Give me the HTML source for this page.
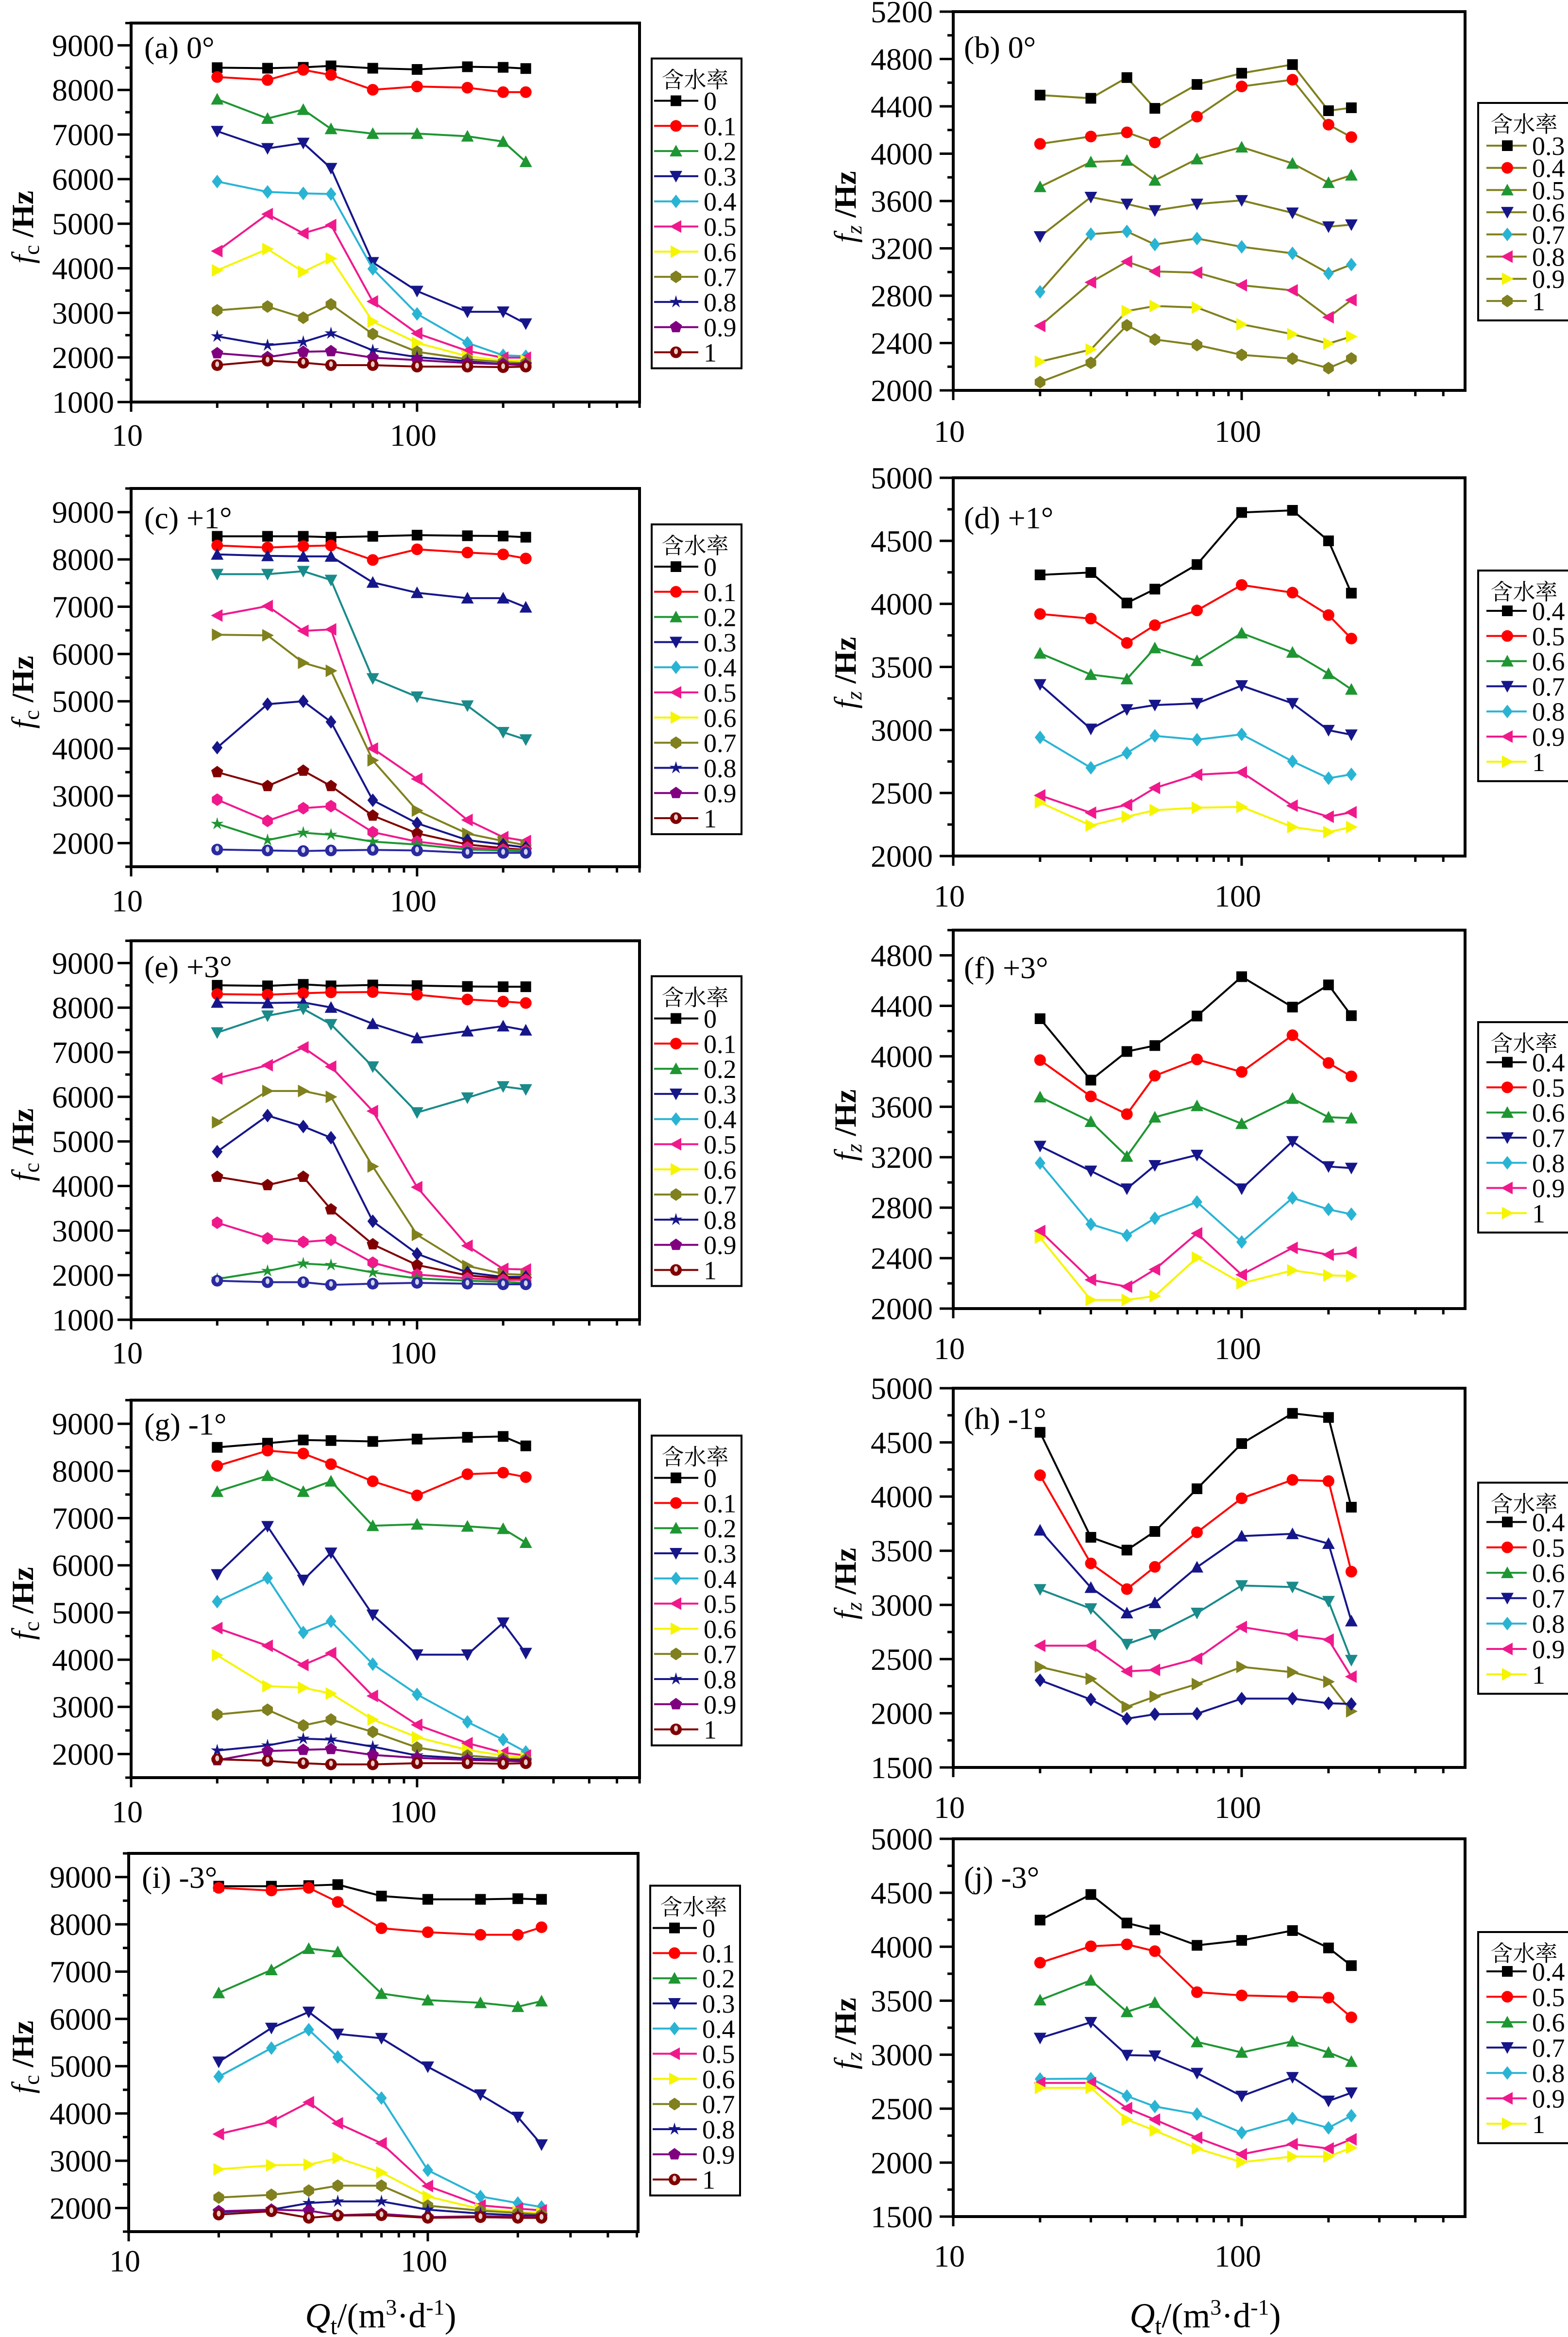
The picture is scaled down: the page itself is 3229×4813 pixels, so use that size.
<!DOCTYPE html>
<html><head><meta charset="utf-8"><title>fc fz vs Qt</title>
<style>html,body{margin:0;padding:0;background:#fff}svg{display:block;font-family:"Liberation Serif","Noto Serif CJK SC",serif}</style>
</head><body>
<svg id="fig" xmlns="http://www.w3.org/2000/svg" width="3229" height="4813" viewBox="0 0 3229 4813"><rect width="3229" height="4813" fill="#fff"/></svg>
<script>
const Q = [20,30,40,50,70,100,150,200,240];
const legendLeft = ['0','0.1','0.2','0.3','0.4','0.5','0.6','0.7','0.8','0.9','1'];
const legendB = ['0.3','0.4','0.5','0.6','0.7','0.8','0.9','1'];
const legendR = ['0.4','0.5','0.6','0.7','0.8','0.9','1'];
const dataA = [
[8500,8487,8507,8540,8487,8460,8520,8507,8480],
[8290,8223,8450,8336,8004,8077,8050,7951,7951],
[7791,7360,7559,7127,7021,7021,6961,6842,6390],
[7074,6689,6809,6244,4133,3489,3024,3024,2758],
[5946,5713,5680,5667,3987,2977,2327,2048,2028],
[4385,5215,4784,4970,3256,2539,2147,1995,1995],
[3953,4432,3920,4219,2805,2327,2028,1928,1928],
[3057,3143,2891,3190,2526,2127,1961,1895,1875],
[2473,2274,2347,2539,2160,2008,1915,1849,1849],
[2094,2008,2127,2141,1995,1941,1875,1849,1828],
[1828,1928,1882,1828,1828,1795,1795,1782,1795]];
const dataC = [
[8488,8488,8488,8469,8488,8513,8500,8494,8469],
[8294,8250,8281,8294,7988,8213,8144,8106,8019],
[8106,8075,8063,8063,7513,7294,7181,7181,6988],
[7688,7688,7750,7563,5481,5094,4906,4344,4188],
[6813,7013,6488,6519,4000,3356,2488,2125,2044],
[6406,6394,5813,5644,3750,2688,2200,2044,1956],
[4019,4938,5000,4563,2906,2419,2063,1969,1906],
[3500,3206,3531,3206,2581,2206,1969,1894,1856],
[2919,2469,2738,2781,2231,2031,1906,1863,1844],
[2406,2063,2219,2175,2031,1969,1863,1844,1831],
[1863,1844,1831,1844,1856,1844,1794,1794,1794]];
const dataE = [
[8502,8489,8522,8489,8509,8495,8475,8469,8469],
[8303,8290,8323,8343,8350,8290,8183,8137,8104],
[8117,8104,8117,8004,7639,7320,7473,7586,7493],
[7440,7818,7971,7625,6676,5647,5979,6231,6165],
[6411,6710,7108,6676,5680,3973,2659,2141,2127],
[5428,6131,6131,5999,4438,2905,2207,2028,2008],
[4770,5580,5335,5082,3210,2479,2061,1961,1961],
[4206,4020,4206,3475,2692,2227,1995,1928,1915],
[3177,2825,2745,2791,2280,2014,1928,1895,1895],
[1915,2094,2260,2227,2061,1928,1875,1849,1828],
[1875,1842,1842,1782,1809,1828,1809,1795,1795]];
const dataG = [
[8500,8588,8656,8644,8625,8675,8713,8731,8531],
[8106,8431,8369,8144,7781,7481,7931,7963,7869],
[7563,7900,7563,7781,6838,6869,6825,6775,6481],
[5806,6825,5688,6263,4950,4106,4106,4781,4138],
[5231,5731,4575,4813,3906,3263,2681,2306,2044],
[4669,4294,3888,4138,3231,2619,2231,2031,1969],
[4094,3438,3406,3281,2731,2356,2088,1969,1919],
[2838,2938,2606,2731,2469,2138,1969,1906,1888],
[2075,2181,2325,2306,2156,1969,1906,1875,1869],
[1869,2063,2088,2106,1981,1919,1875,1856,1844],
[1888,1856,1806,1781,1781,1806,1806,1794,1806]];
const dataI = [
[8806,8806,8819,8840,8597,8528,8528,8542,8528],
[8771,8715,8771,8472,7917,7833,7778,7778,7938],
[6549,7035,7486,7417,6535,6396,6340,6257,6375],
[5090,5806,6146,5681,5590,4986,4396,3924,3340],
[4778,5382,5771,5194,4326,2799,2243,2104,2021],
[3563,3826,4236,3792,3368,2465,2056,1986,1951],
[2819,2903,2917,3056,2750,2243,1979,1917,1896],
[2222,2278,2368,2472,2472,2049,1944,1896,1861],
[1910,1965,2104,2139,2139,1965,1882,1847,1840],
[1931,1965,1944,1847,1875,1806,1826,1813,1813],
[1861,1931,1792,1840,1847,1792,1806,1792,1792]];
const dataB = [
[4495,4468,4643,4383,4585,4680,4753,4363,4388],
[4083,4145,4180,4095,4313,4568,4625,4245,4140],
[3720,3930,3943,3775,3955,4055,3918,3755,3818],
[3300,3633,3575,3520,3575,3605,3500,3383,3400],
[2833,3320,3343,3233,3283,3213,3158,2988,3063],
[2545,2913,3088,3005,2995,2888,2845,2618,2763],
[2243,2345,2670,2713,2700,2558,2475,2395,2455],
[2070,2233,2550,2430,2383,2300,2268,2188,2270]];
const dataD = [
[4230,4249,4007,4117,4312,4725,4742,4500,4085],
[3920,3883,3690,3831,3948,4150,4089,3911,3725],
[3608,3439,3404,3650,3549,3768,3615,3446,3322],
[3361,3008,3162,3197,3211,3352,3211,2998,2962],
[2941,2700,2817,2953,2923,2965,2751,2617,2648],
[2481,2343,2406,2540,2645,2664,2399,2312,2347],
[2425,2242,2312,2364,2383,2390,2230,2190,2230]];
const dataF = [
[4298,3811,4038,4085,4319,4631,4390,4566,4322],
[3970,3682,3541,3846,3975,3876,4167,3947,3841],
[3677,3482,3206,3517,3607,3466,3665,3517,3510],
[3288,3091,2950,3135,3217,2950,3325,3126,3114],
[3154,2669,2580,2716,2845,2528,2877,2786,2748],
[2615,2228,2174,2310,2596,2268,2481,2427,2444],
[2563,2069,2069,2099,2404,2200,2303,2263,2259]];
const dataH = [
[4593,3624,3506,3678,4072,4489,4768,4730,3902],
[4197,3383,3146,3351,3670,3984,4154,4143,3307],
[3689,3160,2925,3020,3348,3635,3656,3566,2851],
[3143,2966,2638,2728,2925,3179,3165,3034,2490],
[2624,2624,2387,2400,2504,2796,2722,2679,2338],
[2428,2318,2059,2154,2269,2428,2379,2291,2018],
[2305,2127,1950,1991,1996,2135,2135,2092,2086]];
const dataJ = [
[4247,4484,4220,4156,4013,4059,4150,3989,3825],
[3852,4004,4022,3959,3579,3549,3537,3528,3346],
[3506,3689,3397,3482,3118,3021,3124,3021,2936],
[3154,3300,2996,2990,2829,2617,2790,2571,2647],
[2775,2778,2617,2520,2450,2277,2410,2322,2435],
[2738,2738,2505,2398,2231,2077,2171,2131,2216],
[2693,2693,2398,2298,2131,2004,2056,2056,2137]];

const NS='http://www.w3.org/2000/svg';
const svg=document.getElementById('fig');
function mk(tag,attrs,parent){const e=document.createElementNS(NS,tag);for(const k in attrs)e.setAttribute(k,attrs[k]);(parent||svg).appendChild(e);return e;}
const C={k:'#000',r:'#ff0000',g:'#1e9632',n:'#16168a',c:'#2ab4d4',p:'#f0198c',y:'#f5f500',o:'#80801e',pu:'#800080',dr:'#800000',t:'#1a8a8a',b:'#2a2aa0'};
const L=[[C.k,'sq'],[C.r,'ci'],[C.g,'up'],[C.n,'dn'],[C.c,'di'],[C.p,'lt'],[C.y,'rt'],[C.o,'hx'],[C.n,'st'],[C.pu,'pe'],[C.dr,'sp']];
const LC=[[C.k,'sq'],[C.r,'ci'],[C.n,'up'],[C.t,'dn'],[C.p,'lt'],[C.o,'rt'],[C.n,'di'],[C.dr,'pe'],[C.p,'hx'],[C.g,'st'],[C.b,'sp']];
const RB=[[C.k,'sq'],[C.r,'ci'],[C.g,'up'],[C.n,'dn'],[C.c,'di'],[C.p,'lt'],[C.y,'rt'],[C.o,'hx']];
const R=[[C.k,'sq'],[C.r,'ci'],[C.g,'up'],[C.n,'dn'],[C.c,'di'],[C.p,'lt'],[C.y,'rt']];
const RH=[[C.k,'sq'],[C.r,'ci'],[C.n,'up'],[C.t,'dn'],[C.p,'lt'],[C.o,'rt'],[C.n,'di']];

function marker(g,shape,x,y,col){
  const s=11;let e;
  const poly=pts=>mk('polygon',{points:pts.map(p=>(x+p[0])+','+(y+p[1])).join(' '),fill:col},g);
  if(shape==='sq')e=mk('rect',{x:x-s,y:y-s,width:2*s,height:2*s,fill:col},g);
  else if(shape==='ci')e=mk('circle',{cx:x,cy:y,r:s+1,fill:col},g);
  else if(shape==='sp'){e=mk('circle',{cx:x,cy:y,r:s+1,fill:col},g);mk('ellipse',{cx:x,cy:y-2,rx:4,ry:6,fill:'#fff',opacity:0.8},g);}
  else if(shape==='up')e=poly([[0,-s-2],[s+2,s],[-s-2,s]]);
  else if(shape==='dn')e=poly([[0,s+2],[s+2,-s],[-s-2,-s]]);
  else if(shape==='lt')e=poly([[-s-2,0],[s,-s-2],[s,s+2]]);
  else if(shape==='rt')e=poly([[s+2,0],[-s,-s-2],[-s,s+2]]);
  else if(shape==='di')e=poly([[0,-s-3],[s,0],[0,s+3],[-s,0]]);
  else if(shape==='hx')e=poly([[0,-s-2],[s,-s/2],[s,s/2],[0,s+2],[-s,s/2],[-s,-s/2]]);
  else if(shape==='pe'){const p=[];for(let i=0;i<5;i++){const a=-Math.PI/2+i*2*Math.PI/5;p.push([Math.cos(a)*(s+2),Math.sin(a)*(s+2)]);}e=poly(p);}
  else if(shape==='st'){const p=[];for(let i=0;i<10;i++){const a=-Math.PI/2+i*Math.PI/5,r=i%2?s*0.45:s+3;p.push([Math.cos(a)*r,Math.sin(a)*r]);}e=poly(p);}
  return e;
}

const panels=[
 {id:'a',lab:'(a) 0°',x0:270,x1:1317,lmax:2.778,y0:47.5,y1:828,ymin:1000,ymax:9500,maj:1000,min:500,data:dataA,st:L,leg:legendLeft,legSt:L,left:true,lt:73,le:160,ls:51.8,pl:72,tx:90},
 {id:'b',lab:'(b) 0°',x0:1963,x1:3017,lmax:2.7744,y0:24,y1:804,ymin:2000,ymax:5200,maj:400,min:200,data:dataB,st:RB,leg:legendB,legSt:RB,left:false,lineCol:C.o,lt:188,le:276,ls:45.7,pl:95,tx:106},
 {id:'c',lab:'(c) +1°',x0:270,x1:1317,lmax:2.778,y0:1006,y1:1785,ymin:1500,ymax:9500,maj:1000,min:500,data:dataC,st:LC,leg:legendLeft,legSt:L,left:true,lt:74,le:161,ls:51.8,pl:82,tx:92},
 {id:'d',lab:'(d) +1°',x0:1963,x1:3017,lmax:2.7744,y0:984,y1:1763,ymin:2000,ymax:5000,maj:500,min:250,data:dataD,st:R,leg:legendR,legSt:R,left:false,lt:191,le:274,ls:51.8,pl:104,tx:104},
 {id:'e',lab:'(e) +3°',x0:270,x1:1317,lmax:2.778,y0:1937.5,y1:2718,ymin:1000,ymax:9500,maj:1000,min:500,data:dataE,st:LC,leg:legendLeft,legSt:L,left:true,lt:73,le:160,ls:51.8,pl:75,tx:90},
 {id:'f',lab:'(f) +3°',x0:1963,x1:3017,lmax:2.7744,y0:1915.6,y1:2695,ymin:2000,ymax:5000,maj:400,min:200,data:dataF,st:R,leg:legendR,legSt:R,left:false,lt:189.5,le:272,ls:51.8,pl:99,tx:104},
 {id:'g',lab:'(g) -1°',x0:270,x1:1317,lmax:2.778,y0:2883.6,y1:3661,ymin:1500,ymax:9500,maj:1000,min:500,data:dataG,st:L,leg:legendLeft,legSt:L,left:true,lt:73,le:160,ls:51.8,pl:71,tx:92},
 {id:'h',lab:'(h) -1°',x0:1963,x1:3017,lmax:2.7744,y0:2859,y1:3640,ymin:1500,ymax:5000,maj:500,min:250,data:dataH,st:RH,leg:legendR,legSt:R,left:false,lt:194.5,le:275.5,ls:52.3,pl:84,tx:104},
 {id:'i',lab:'(i) -3°',x0:265,x1:1314,lmax:2.703,y0:3817,y1:4596,ymin:1500,ymax:9500,maj:1000,min:500,data:dataI,st:L,leg:legendLeft,legSt:L,left:true,lt:66.5,le:153.6,ls:51.8,pl:71,tx:82,xt:true},
 {id:'j',lab:'(j) -3°',x0:1963,x1:3017,lmax:2.7744,y0:3787,y1:4565,ymin:1500,ymax:5000,maj:500,min:250,data:dataJ,st:R,leg:legendR,legSt:R,left:false,lt:192,le:273,ls:52.3,pl:101,tx:103,xt:true}
];

panels.forEach(p=>{
  const g=mk('g',{});
  
  
  const X=v=>p.x0+(Math.log10(v)-1)/(p.lmax-1)*(p.x1-p.x0);
  const Y=v=>p.y1-(v-p.ymin)/(p.ymax-p.ymin)*(p.y1-p.y0);
  const fr=mk('rect',{x:p.x0,y:p.y0,width:p.x1-p.x0,height:p.y1-p.y0,fill:'none',stroke:'#000','stroke-width':6},g);
  
  
  for(let v=p.ymin;v<=p.ymax+0.1;v+=p.min){
    const y=Y(v),maj=(v%p.maj===0);
    mk('line',{x1:p.x0-(maj?28:12),x2:p.x0,y1:y,y2:y,stroke:'#000','stroke-width':5},g);
    if(maj){
      const t=mk('text',{x:p.x0-(p.left?35:42),y:y+22,'text-anchor':'end','font-size':64},g);
      t.textContent=v;
      
      
    }
  }
  const xmax=Math.pow(10,p.lmax)+0.5;
  [10,100].forEach(d=>{for(let k=1;k<=9;k++){const v=d*k;if(v>xmax)break;const x=X(v);
    mk('line',{x1:x,x2:x,y1:p.y1,y2:p.y1+(k===1?20:12),stroke:'#000','stroke-width':5},g);}});
  [10,100].forEach(v=>{
    const t=mk('text',{x:X(v)-8,y:p.y1+p.tx,'text-anchor':'middle','font-size':64},g);
    t.textContent=v;
    
    
  });
  p.data.forEach((ser,si)=>{
    const [col,shape]=p.st[si];
    const sg=mk('g',{},g);
    
    
    const line=mk('polyline',{points:ser.map((v,i)=>X(Q[i])+','+Y(v)).join(' '),fill:'none',stroke:p.lineCol||col,'stroke-width':4},sg);
    
    
    ser.forEach((v,i)=>{const m=marker(sg,shape,X(Q[i]),Y(v),col);
      
      });
  });
  const lg=mk('g',{},g);
  
  
  const bx=p.left?p.x1+25:3044, bw=p.left?185:195;
  const bh=p.left?638:(p.le+p.ls*(p.leg.length-1)+40-p.lt);
  mk('rect',{x:bx,y:p.y0+p.lt,width:bw,height:bh,fill:'#fff',stroke:'#000','stroke-width':4},lg);
  const tt=mk('text',{x:bx+bw/2-3,y:p.y0+p.lt+60,'text-anchor':'middle','font-size':46,'font-family':'"Noto Serif CJK SC","Noto Sans CJK SC",serif'},lg);
  tt.textContent='含水率';
  
  
  p.leg.forEach((lab,i)=>{
    const y=p.y0+p.le+i*p.ls;const [col,shape]=p.legSt[i];
    const lx0=p.left?bx+5:bx+17, lx1=p.left?bx+96:bx+100, mx=p.left?bx+50:bx+60, tx=p.left?bx+107:bx+111;
    const e=mk('g',{},lg);
    
    
    mk('line',{x1:lx0,x2:lx1,y1:y,y2:y,stroke:p.lineCol||col,'stroke-width':4},e);
    marker(e,shape,mx,y,col);
    const t=mk('text',{x:tx,y:y+19,'font-size':54},e);
    t.textContent=lab;
  });
  const pl=mk('text',{x:p.left?p.x0+27:p.x0+22,y:p.y0+p.pl,'font-size':64},g);
  pl.textContent=p.lab;
  
  
  const cy=(p.y0+p.y1)/2+(p.left?30:12), bxp=p.left?68:1762;
  const yt=mk('text',{transform:'translate('+bxp+','+cy+') rotate(-90)','text-anchor':'middle','font-size':64},g);
  
  
  yt.innerHTML=p.left?'<tspan font-style="italic">f</tspan><tspan font-size="46" dy="12">c</tspan><tspan dy="-12" font-weight="bold"> /Hz</tspan>'
                     :'<tspan font-style="italic">f</tspan><tspan font-size="46" dy="12" font-style="italic">z</tspan><tspan dy="-12" font-weight="bold"> /Hz</tspan>';
  if(p.xt){
    const xt=mk('text',{x:p.left?784:2482,y:4793,'text-anchor':'middle','font-size':72},g);
    
    
    xt.innerHTML='<tspan font-style="italic">Q</tspan><tspan font-size="50" dy="14">t</tspan><tspan dy="-14">/(m</tspan><tspan font-size="46" dy="-26">3</tspan><tspan dy="26">·d</tspan><tspan font-size="46" dy="-26">-1</tspan><tspan dy="26">)</tspan>';
  }
});
</script>
</body></html>
